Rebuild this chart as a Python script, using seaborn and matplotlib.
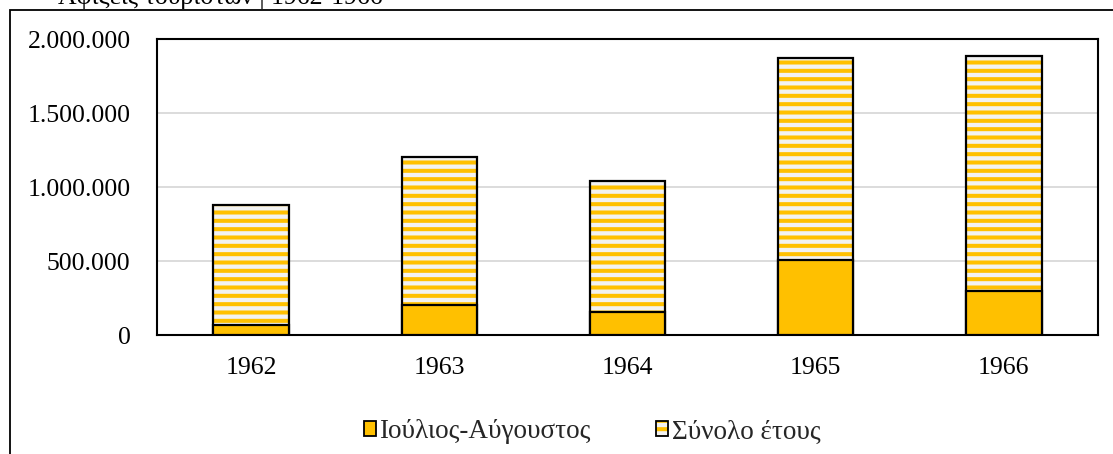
import matplotlib

matplotlib.use("Agg")

import matplotlib.pyplot as plt
import seaborn as sns
from matplotlib.patches import Patch, Rectangle
from matplotlib.legend_handler import HandlerTuple
from matplotlib.ticker import FuncFormatter, MultipleLocator

# Data
years = ["1962", "1963", "1964", "1965", "1966"]
total_year = [880000, 1205000, 1040000, 1870000, 1885000]
july_august = [65000, 205000, 155000, 505000, 300000]
series_names = ["Ιούλιος-Αύγουστος", "Σύνολο έτους"]
title_text = "Αφίξεις τουριστών | 1962-1966"

GOLD = "#FFC000"
STRIPE_BG = "#F2F2F2"

sns.set_theme(style="white")
plt.rcParams["font.family"] = ["Liberation Serif", "DejaVu Serif"]
plt.rcParams["hatch.linewidth"] = 2.9
FS = 18.5

W, H = 1113, 454
fig = plt.figure(figsize=(W / 100, H / 100), dpi=100)
ax = fig.add_axes([157 / W, 1 - 335 / H, (1098 - 157) / W, (335 - 39) / H])

# striped "total" bars, then their outline, then the solid Jul-Aug bars on top
sns.barplot(x=years, y=total_year, order=years, color=STRIPE_BG, saturation=1,
            width=0.4, edgecolor=GOLD, linewidth=0, hatch="--", ax=ax, zorder=2)
sns.barplot(x=years, y=total_year, order=years, color="black", fill=False,
            width=0.4, linewidth=1.6, ax=ax, zorder=3)
sns.barplot(x=years, y=july_august, order=years, color=GOLD, saturation=1,
            width=0.4, edgecolor="black", linewidth=1.6, ax=ax, zorder=4)

ax.set_ylim(0, 2000000)
ax.set_xlim(-0.5, len(years) - 0.5)
ax.yaxis.set_major_locator(MultipleLocator(500000))
ax.yaxis.set_major_formatter(FuncFormatter(lambda v, p: f"{int(v):,}".replace(",", ".")))
ax.set_xlabel("")
ax.set_ylabel("")
ax.grid(axis="y", color="#D9D9D9", linewidth=1.3)
ax.set_axisbelow(True)
ax.tick_params(axis="y", length=0, pad=19, labelsize=FS, labelcolor="black")
ax.tick_params(axis="x", length=0, pad=16, labelsize=FS, labelcolor="black")
for s in ax.spines.values():
    s.set_visible(True)
    s.set_color("black")
    s.set_linewidth(1.5)

# legend
h1 = Patch(facecolor=GOLD, edgecolor="black", linewidth=1.3)
h2a = Patch(facecolor=STRIPE_BG, edgecolor=GOLD, linewidth=0, hatch="--")
h2b = Patch(facecolor="none", edgecolor="black", linewidth=1.3)
fig.legend([h1, (h2a, h2b)], series_names, loc="center",
           bbox_to_anchor=(592 / W, 1 - 432 / H), ncol=2, frameon=False,
           fontsize=19.5, handlelength=0.46, handleheight=0.46,
           handletextpad=0.12, columnspacing=2.4,
           handler_map={tuple: HandlerTuple(ndivide=1)})

# outer chart frame, running off the right and bottom edges
fig.add_artist(Rectangle((10 / W, -0.5), 2, 1.5 - 10 / H, transform=fig.transFigure,
                         fill=False, edgecolor="black", linewidth=1.3, clip_on=False))

# heading above the frame, clipped by the top edge as in the source image
fig.text(383 / W, 1 - 4 / H, title_text, ha="right", va="baseline", fontsize=FS,
         color="black")

fig.savefig("out.png", dpi=100)
